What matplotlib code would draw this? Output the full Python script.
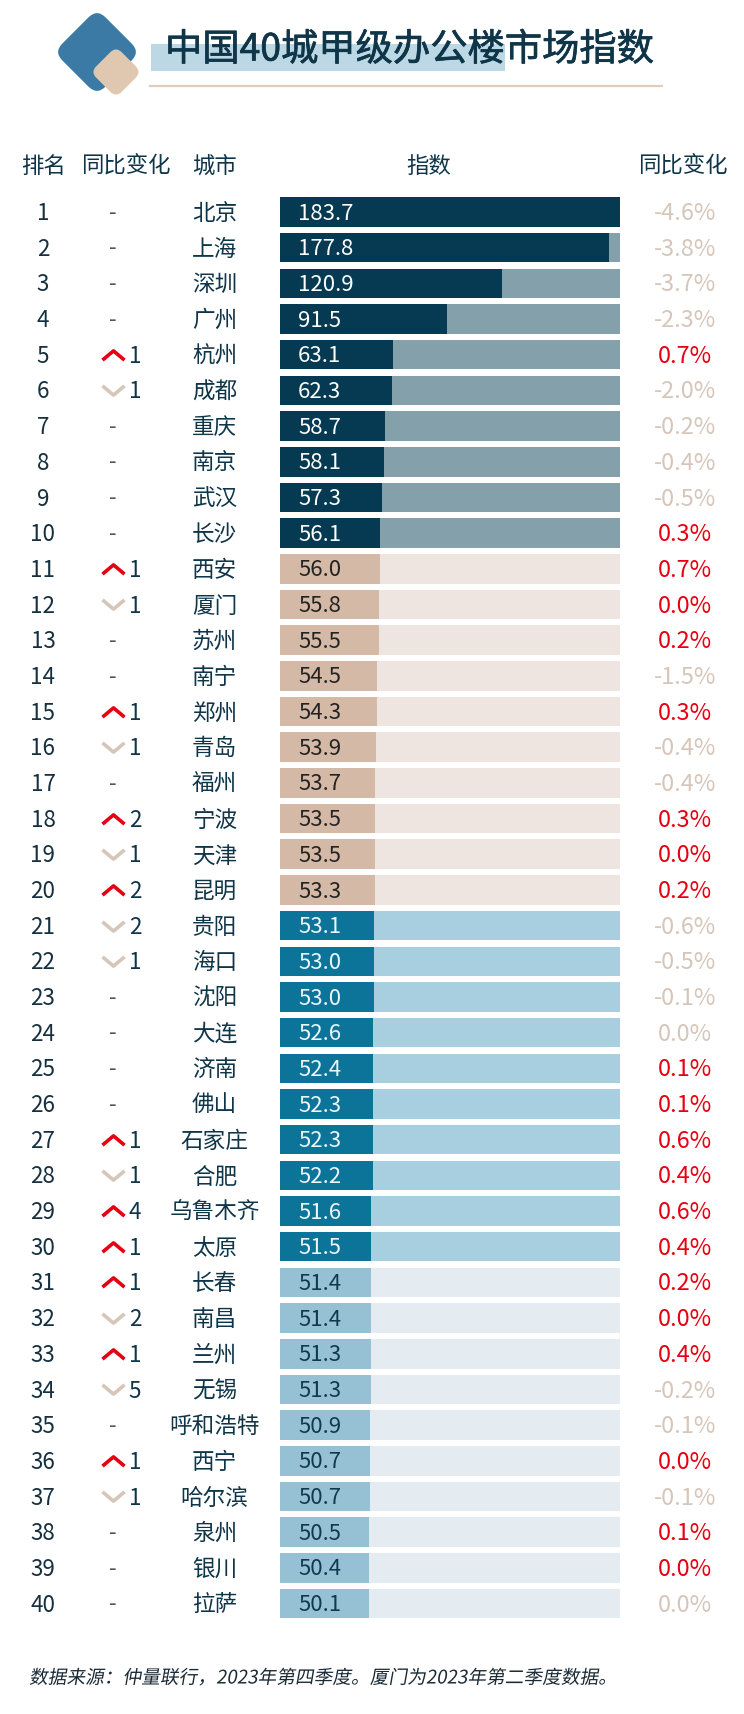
import matplotlib
matplotlib.use('Agg')
import matplotlib.pyplot as plt
import matplotlib.patheffects as pe
from matplotlib.patches import FancyBboxPatch, Rectangle
from matplotlib.transforms import Affine2D, blended_transform_factory

plt.rcParams['font.family'] = ['Noto Sans CJK SC', 'DejaVu Sans']

W, H = 744, 1714

cities = ['北京', '上海', '深圳', '广州', '杭州', '成都', '重庆', '南京', '武汉', '长沙',
          '西安', '厦门', '苏州', '南宁', '郑州', '青岛', '福州', '宁波', '天津', '昆明',
          '贵阳', '海口', '沈阳', '大连', '济南', '佛山', '石家庄', '合肥', '乌鲁木齐', '太原',
          '长春', '南昌', '兰州', '无锡', '呼和浩特', '西宁', '哈尔滨', '泉州', '银川', '拉萨']
index_values = [183.7, 177.8, 120.9, 91.5, 63.1, 62.3, 58.7, 58.1, 57.3, 56.1,
                56.0, 55.8, 55.5, 54.5, 54.3, 53.9, 53.7, 53.5, 53.5, 53.3,
                53.1, 53.0, 53.0, 52.6, 52.4, 52.3, 52.3, 52.2, 51.6, 51.5,
                51.4, 51.4, 51.3, 51.3, 50.9, 50.7, 50.7, 50.5, 50.4, 50.1]
# rank change, + up, - down, 0 no change
rank_change = [0, 0, 0, 0, 1, -1, 0, 0, 0, 0,
               1, -1, 0, 0, 1, -1, 0, 2, -1, 2,
               -2, -1, 0, 0, 0, 0, 1, -1, 4, 1,
               1, -2, 1, -5, 0, 1, -1, 0, 0, 0]
yoy = [-4.6, -3.8, -3.7, -2.3, 0.7, -2.0, -0.2, -0.4, -0.5, 0.3,
       0.7, 0.0, 0.2, -1.5, 0.3, -0.4, -0.4, 0.3, 0.0, 0.2,
       -0.6, -0.5, -0.1, 0.0, 0.1, 0.1, 0.6, 0.4, 0.6, 0.4,
       0.2, 0.0, 0.4, -0.2, -0.1, 0.0, -0.1, 0.1, 0.0, 0.0]
# the zero rows printed in the muted colour
yoy_muted_zero = [24, 40]

bar_colors = ['#053a52', '#d4b9a6', '#0d7499', '#96c1d4']
bg_colors = ['#84a0ab', '#efe5e0', '#a8cfdf', '#e4ecf2']
label_colors = ['white', '#222222', '#eef6fa', '#12384c']

NAVY = '#0f3549'
RED = '#e60012'
TAN = '#d6c6ba'
TEXT_DY = 0.045  # the CJK font sits a bit high with va='center'


class Slant(pe.AbstractPathEffect):
    # the CJK fonts have no italic, so shear the glyphs
    def draw_path(self, renderer, gc, tpath, affine, rgbFace=None):
        renderer.draw_path(gc, tpath, Affine2D().skew_deg(10, 0) + affine, rgbFace)


def px(size):
    return size * 72 / 100


def fx(x):
    return x / W


def stroke(lw, color):
    return [pe.withStroke(linewidth=lw, foreground=color)]


fig = plt.figure(figsize=(W / 100, H / 100), dpi=100)

# decoration layer in pixel coordinates
deco = fig.add_axes([0, 0, 1, 1])
deco.set_xlim(0, W)
deco.set_ylim(H, 0)
deco.axis('off')

big = FancyBboxPatch((97 - 30.5, 52 - 30.5), 61, 61, boxstyle='round,pad=0,rounding_size=12',
                     fc='#3a7aa5', ec='none',
                     transform=Affine2D().rotate_deg_around(97, 52, 45) + deco.transData)
small = FancyBboxPatch((116 - 18, 72 - 18), 36, 36, boxstyle='round,pad=0,rounding_size=8',
                       fc='#e0c8b0', ec='none',
                       transform=Affine2D().rotate_deg_around(116, 72, 45) + deco.transData)
deco.add_patch(big)
deco.add_patch(small)
deco.add_patch(Rectangle((151, 44), 354, 27, fc='#bcd8e5', ec='none'))
deco.plot([150, 662], [86, 86], color='#dfcdbd', lw=1.6)
deco.text(165, 50, '中国40城甲级办公楼市场指数', fontsize=px(37.3), color=NAVY,
          ha='left', va='center', path_effects=stroke(0.5, NAVY))

for x, label in [(43, '排名'), (125.5, '同比变化'), (214.5, '城市'), (429, '指数'), (682.5, '同比变化')]:
    deco.text(x, 166, label, fontsize=px(22.4), color=NAVY, ha='center', va='center')

deco.text(29, 1678, '数据来源：仲量联行，2023年第四季度。厦门为2023年第二季度数据。',
          fontsize=px(18.7), color='#1a2a35', ha='left', va='center',
          path_effects=[Slant()])

# bars
ax = fig.add_axes([fx(280), 1 - 1618.5 / H, 340 / W, (1618.5 - 197) / H])
ax.set_xlim(3, max(index_values))
ax.set_ylim(40.42, 0.58)
ax.axis('off')

ranks = list(range(1, len(cities) + 1))
tiers = [(r - 1) // 10 for r in ranks]
ax.barh(ranks, max(index_values), height=0.827, color=[bg_colors[t] for t in tiers])
ax.barh(ranks, index_values, height=0.827, color=[bar_colors[t] for t in tiers])

trans = blended_transform_factory(fig.transFigure, ax.transData)

chevron_up = [(-1, -0.42), (0, 0.42), (1, -0.42)]
chevron_down = [(-1, 0.42), (0, -0.42), (1, 0.42)]

for r, city, v, ch, y, t in zip(ranks, cities, index_values, rank_change, yoy, tiers):
    ty = r + TEXT_DY
    ax.text(fx(43), ty, str(r), transform=trans, fontsize=px(22.4), color='#16303f',
            ha='center', va='center', clip_on=False)
    ax.text(fx(214.5), ty, city, transform=trans, fontsize=px(22.6), color=NAVY,
            ha='center', va='center', clip_on=False)
    ax.text(fx(298), ty, f'{v:.1f}', transform=trans, fontsize=px(22.2), color=label_colors[t],
            ha='left', va='center', clip_on=False)

    if ch == 0:
        ax.text(fx(113), r + 0.02, '-', transform=trans, fontsize=px(22), color='#555555',
                ha='center', va='center', clip_on=False)
    else:
        ax.plot([fx(113)], [r], transform=trans, clip_on=False, linestyle='none',
                marker=chevron_up if ch > 0 else chevron_down, markersize=px(22),
                markerfacecolor='none', markeredgecolor=RED if ch > 0 else TAN,
                markeredgewidth=2.6)
        ax.text(fx(135), ty, str(abs(ch)), transform=trans, fontsize=px(22.4), color=NAVY,
                ha='center', va='center', clip_on=False)

    muted = y < 0 or (y == 0 and r in yoy_muted_zero)
    ax.text(fx(685), ty, f'{y:.1f}%', transform=trans, fontsize=px(23.5),
            color=TAN if muted else RED, ha='center', va='center', clip_on=False)

fig.savefig('out.png', dpi=100)
